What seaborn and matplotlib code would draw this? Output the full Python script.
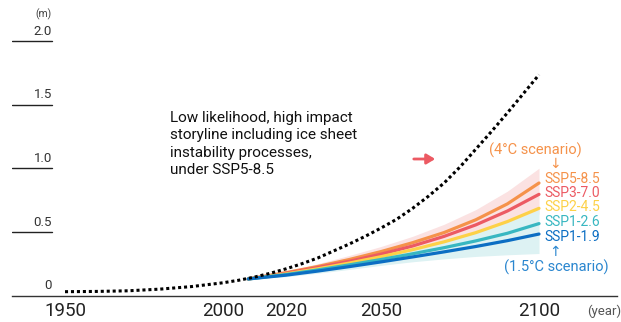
import pandas as pd
import seaborn as sns
import matplotlib.pyplot as plt

# low likelihood / high impact storyline (dotted)
story_years = [1950, 1960, 1970, 1980, 1990, 2000, 2005, 2010, 2015, 2020, 2025, 2030, 2035,
               2040, 2045, 2050, 2055, 2060, 2065, 2070, 2075, 2080, 2085, 2090, 2095, 2100]
story_rise = [0.03, 0.032, 0.037, 0.05, 0.07, 0.10, 0.12, 0.145, 0.175, 0.21, 0.25, 0.295, 0.35,
              0.405, 0.465, 0.53, 0.60, 0.685, 0.78, 0.885, 1.01, 1.15, 1.29, 1.435, 1.585, 1.735]

# projections per scenario
proj_years = [2008, 2020, 2030, 2040, 2050, 2060, 2070, 2080, 2090, 2100]
ssp585 = [0.13, 0.18, 0.228, 0.283, 0.345, 0.415, 0.495, 0.595, 0.72, 0.884]
ssp370 = [0.13, 0.175, 0.22, 0.269, 0.325, 0.389, 0.465, 0.555, 0.664, 0.795]
ssp245 = [0.13, 0.17, 0.21, 0.255, 0.305, 0.36, 0.422, 0.494, 0.581, 0.685]
ssp126 = [0.13, 0.165, 0.201, 0.241, 0.283, 0.328, 0.376, 0.429, 0.489, 0.565]
ssp119 = [0.13, 0.16, 0.192, 0.227, 0.264, 0.303, 0.343, 0.385, 0.431, 0.483]

# likely ranges (SSP5-8.5 and low scenarios)
high_top = [0.13, 0.19, 0.25, 0.315, 0.385, 0.465, 0.56, 0.675, 0.82, 1.0]
high_bot = [0.13, 0.16, 0.195, 0.235, 0.28, 0.33, 0.39, 0.46, 0.545, 0.64]
low_top = [0.13, 0.17, 0.21, 0.255, 0.305, 0.36, 0.42, 0.49, 0.575, 0.675]
low_bot = [0.13, 0.148, 0.175, 0.205, 0.237, 0.265, 0.288, 0.307, 0.32, 0.33]

scenarios = ["SSP5-8.5", "SSP3-7.0", "SSP2-4.5", "SSP1-2.6", "SSP1-1.9"]
colors = ["#F5924A", "#EC5A63", "#FDD148", "#38B7C1", "#0C6EC3"]

x_ticks = [1950, 2000, 2020, 2050, 2100]
y_ticks = [0, 0.5, 1.0, 1.5, 2.0]
y_labels = ["0", "0.5", "1.0", "1.5", "2.0"]

W, H = 621, 322


def fx(px):
    return px / W


def fy(py):
    return 1 - py / H


sns.set_style("white")
plt.rcParams["font.family"] = ["Roboto", "DejaVu Sans"]

fig = plt.figure(figsize=(6.21, 3.22), dpi=100)
# axis line from px 12 to 617, zero at px 295.5
ax = fig.add_axes([fx(12), fy(295.5), fx(617 - 12), (295.5 - 5) / H])
ax.set_xlim(1950 - 53 / 3.16, 2100 + 78 / 3.16)
ax.set_ylim(0, 290.5 / 127.25)

ax.fill_between(proj_years, high_bot, high_top, color="#FBE2E2", lw=0)
ax.fill_between(proj_years, low_bot, low_top, color="#DDF2F3", lw=0)

df = pd.DataFrame({
    "year": proj_years * 5,
    "rise": ssp585 + ssp370 + ssp245 + ssp126 + ssp119,
    "scenario": [s for s in scenarios for _ in proj_years],
})
sns.lineplot(data=df, x="year", y="rise", hue="scenario", hue_order=scenarios,
             palette=colors, linewidth=2.3, legend=False, ax=ax)

sns.lineplot(x=story_years, y=story_rise, color="black", linewidth=2.2, ax=ax, zorder=5)
ax.lines[-1].set_linestyle((0, (1, 0.95)))

for s in ["top", "right", "left"]:
    ax.spines[s].set_visible(False)
ax.spines["bottom"].set_color("#333333")
ax.spines["bottom"].set_linewidth(1.0)

ax.set_xticks(x_ticks, [str(t) for t in x_ticks])
ax.tick_params(axis="x", length=0, pad=5, labelsize=13.5, labelcolor="#222222")
ax.set_yticks([])
ax.set_xlabel("")
ax.set_ylabel("")

# y scale: short underlines with the value above
for v, lab in zip(y_ticks, y_labels):
    if v > 0:
        ax.axhline(v, xmin=0, xmax=(52 - 12) / 605, color="#222222", lw=1.0)
    ax.text((52 - 12) / 605, v + 0.025, lab, transform=ax.get_yaxis_transform(),
            ha="right", va="bottom", fontsize=9.5, color="#333333")
fig.text(fx(43), fy(14), "(m)", ha="center", va="center", fontsize=7.5, color="#444444")
fig.text(fx(587), fy(311), "(year)", ha="left", va="center", fontsize=9.5, color="#555555")

fig.text(fx(170), fy(111), "Low likelihood, high impact\nstoryline including ice sheet\n"
         "instability processes,\nunder SSP5-8.5",
         ha="left", va="top", fontsize=11, linespacing=1.3, color="#111111")

ax.annotate("", xy=(438, H - 159), xytext=(411, H - 159),
            xycoords="figure pixels", textcoords="figure pixels",
            arrowprops=dict(arrowstyle="-|>,head_length=0.5,head_width=0.3",
                            color="#EC5A63", lw=2))

fig.text(fx(535), fy(150), "(4°C scenario)", ha="center", va="center",
         fontsize=10.5, color=colors[0])
fig.text(fx(555), fy(164), "↓", ha="center", va="center", fontsize=10, color=colors[0])
label_y = [179, 193, 207, 222, 237]
for name, c, py in zip(scenarios, colors, label_y):
    fig.text(fx(544), fy(py), name, ha="left", va="center", fontsize=10, color=c)
fig.text(fx(555), fy(252), "↑", ha="center", va="center", fontsize=10, color="#2A86CF")
fig.text(fx(556), fy(267), "(1.5°C scenario)", ha="center", va="center",
         fontsize=10.5, color="#2A86CF")

fig.savefig("out.png", dpi=100)
